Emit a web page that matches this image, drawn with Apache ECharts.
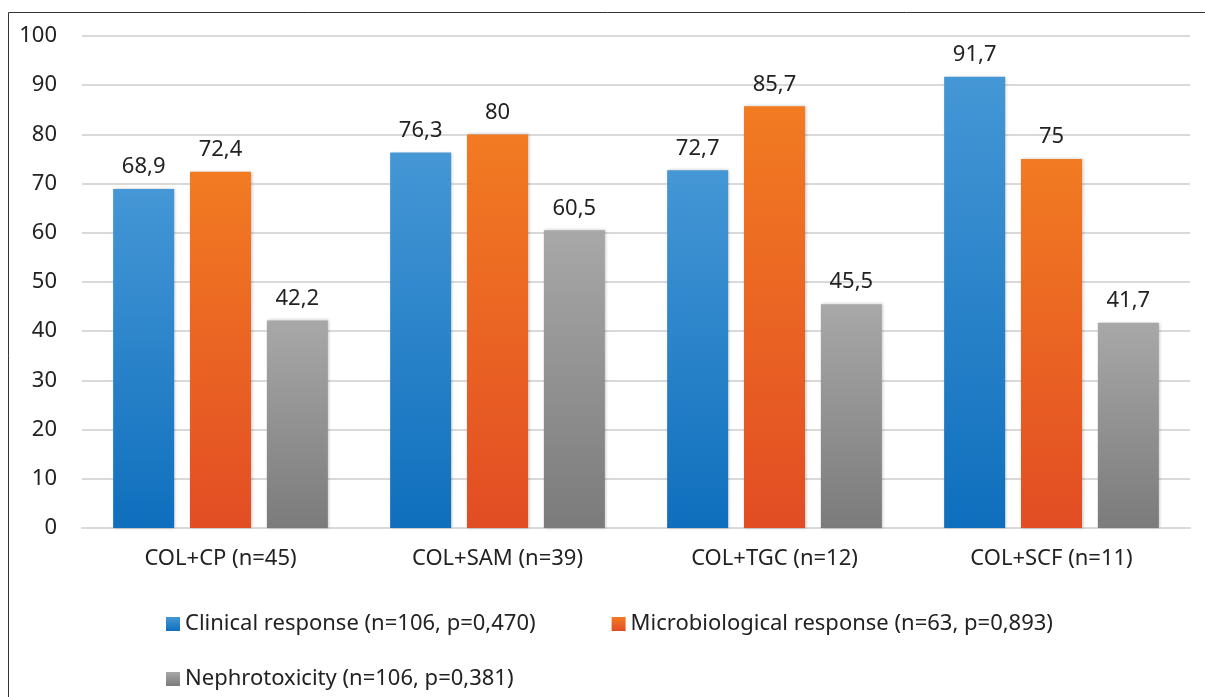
<!DOCTYPE html>
<html>
<head>
<meta charset="utf-8">
<script src="https://cdn.jsdelivr.net/npm/echarts@6/dist/echarts.min.js"></script>
<style>
  html, body { margin: 0; padding: 0; background: #fff; }
  #chart { width: 1205px; height: 697px; }
</style>
</head>
<body>
<div id="chart"></div>
<script>
// 数据
const categories = ['COL+CP (n=45)', 'COL+SAM (n=39)', 'COL+TGC (n=12)', 'COL+SCF (n=11)']
const clinical = [68.9, 76.3, 72.7, 91.7]
const microbiological = [72.4, 80, 85.7, 75]
const nephrotoxicity = [42.2, 60.5, 45.5, 41.7]
const seriesNames = [
  'Clinical response (n=106, p=0,470)',
  'Microbiological response (n=63, p=0,893)',
  'Nephrotoxicity (n=106, p=0,381)'
]

const FONT = 'Noto Sans'
const TEXT = '#222'
const SIZE = 22

function grad (top, bottom) {
  return new echarts.graphic.LinearGradient(0, 0, 0, 1, [
    { offset: 0, color: top },
    { offset: 1, color: bottom }
  ])
}

function bar (name, data, top, bottom) {
  return {
    name: name,
    type: 'bar',
    data: data,
    barWidth: 61,
    barGap: '26%',
    itemStyle: {
      color: grad(top, bottom),
      shadowColor: 'rgba(0,0,0,0.25)',
      shadowBlur: 3,
      shadowOffsetX: 1
    },
    label: {
      show: true,
      position: 'top',
      distance: 11,
      color: TEXT,
      fontFamily: FONT,
      fontSize: SIZE,
      formatter: p => String(p.value).replace('.', ',')
    }
  }
}

const chart = echarts.init(document.getElementById('chart'))
const option = {
  animation: false,
  textStyle: { fontFamily: FONT },
  graphic: [{
    type: 'rect',
    shape: { x: 8.5, y: 12.5, width: 1400, height: 900 },
    style: { fill: 'none', stroke: '#333', lineWidth: 1 }
  }],
  grid: { left: 82, right: 15, top: 36, bottom: 169 },
  legend: [
    {
      data: [seriesNames[0], seriesNames[1]],
      left: 161,
      top: 608,
      icon: 'rect',
      itemWidth: 14,
      itemHeight: 14,
      itemGap: 76,
      textStyle: { color: TEXT, fontFamily: FONT, fontSize: SIZE }
    },
    {
      data: [seriesNames[2]],
      left: 161,
      top: 663,
      icon: 'rect',
      itemWidth: 14,
      itemHeight: 14,
      textStyle: { color: TEXT, fontFamily: FONT, fontSize: SIZE }
    }
  ],
  xAxis: {
    type: 'category',
    data: categories,
    axisTick: { show: false },
    axisLine: { lineStyle: { color: '#d9d9d9', width: 2 } },
    axisLabel: { color: TEXT, fontFamily: FONT, fontSize: SIZE, margin: 20 }
  },
  yAxis: {
    type: 'value',
    min: 0,
    max: 100,
    interval: 10,
    axisLine: { show: false },
    axisTick: { show: false },
    splitLine: { lineStyle: { color: '#d9d9d9', width: 2 } },
    axisLabel: { color: TEXT, fontFamily: FONT, fontSize: SIZE, margin: 25 }
  },
  series: [
    bar(seriesNames[0], clinical, '#4597d5', '#0f6fbd'),
    bar(seriesNames[1], microbiological, '#f27b22', '#e24d24'),
    bar(seriesNames[2], nephrotoxicity, '#a8a8a8', '#7b7b7b')
  ]
}
chart.setOption(option)
</script>
</body>
</html>
